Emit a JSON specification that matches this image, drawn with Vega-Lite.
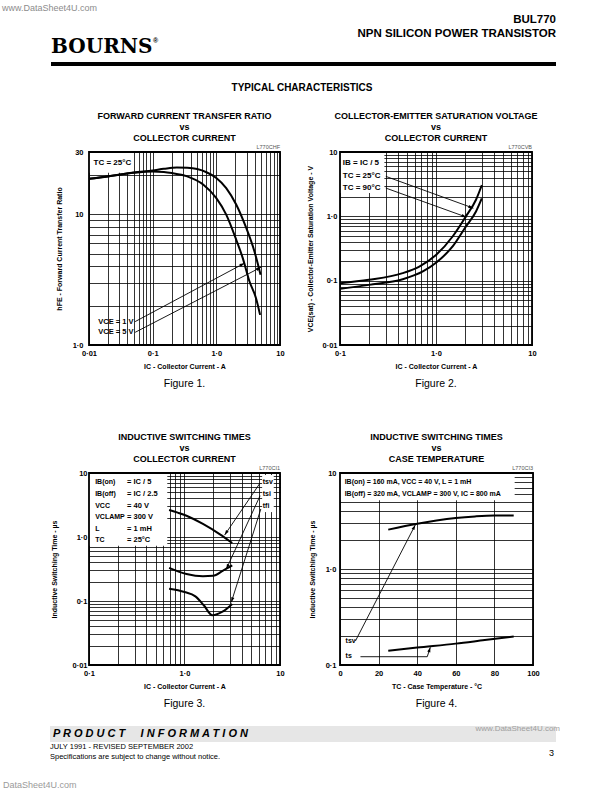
{
 "$schema": "https://vega.github.io/schema/vega-lite/v6.json",
 "background": "white",
 "padding": 0,
 "columns": 3,
 "align": "each",
 "bounds": "flush",
 "spacing": {"row": 0, "column": 60},
 "config": {
  "font": "Liberation Sans",
  "view": {"stroke": null},
  "title": {"fontSize": 9, "fontWeight": "bold", "color": "black", "lineHeight": 11, "offset": 2, "anchor": "middle"},
  "axis": {"grid": true, "gridColor": "black", "gridWidth": 0.8, "gridOpacity": 1, "domain": false, "ticks": false, "labelFontSize": 7.5, "labelFontWeight": "bold", "labelColor": "black", "labelOverlap": false, "labelBound": false, "labelFlush": false, "titleFontSize": 7, "titleFontWeight": "bold", "titleColor": "black"},
  "axisX": {"labelPadding": 4, "titlePadding": 6},
  "text": {"fontWeight": "bold", "fontSize": 7.5, "color": "black", "baseline": "middle"},
  "line": {"color": "black"},
  "point": {"color": "black", "filled": true, "opacity": 1}
 },
 "datasets": {
  "c1": [
   {"s": "5V", "x": 0.01, "y": 18.7}, {"s": "5V", "x": 0.02, "y": 19.6}, {"s": "5V", "x": 0.031, "y": 20.2}, {"s": "5V", "x": 0.05, "y": 20.9}, {"s": "5V", "x": 0.1, "y": 21.7}, {"s": "5V", "x": 0.15, "y": 22.3}, {"s": "5V", "x": 0.24, "y": 22.8}, {"s": "5V", "x": 0.35, "y": 22.7}, {"s": "5V", "x": 0.5, "y": 22.2}, {"s": "5V", "x": 0.7, "y": 21.0}, {"s": "5V", "x": 1.0, "y": 19.0}, {"s": "5V", "x": 1.43, "y": 15.9}, {"s": "5V", "x": 2.05, "y": 11.9}, {"s": "5V", "x": 2.94, "y": 7.9}, {"s": "5V", "x": 3.97, "y": 5.2}, {"s": "5V", "x": 4.95, "y": 3.45},
   {"s": "1V", "x": 0.01, "y": 18.7}, {"s": "1V", "x": 0.02, "y": 19.5}, {"s": "1V", "x": 0.031, "y": 20.2}, {"s": "1V", "x": 0.05, "y": 20.8}, {"s": "1V", "x": 0.1, "y": 21.3}, {"s": "1V", "x": 0.15, "y": 21.1}, {"s": "1V", "x": 0.2, "y": 20.7}, {"s": "1V", "x": 0.34, "y": 19.6}, {"s": "1V", "x": 0.62, "y": 16.9}, {"s": "1V", "x": 1.0, "y": 13.3}, {"s": "1V", "x": 1.43, "y": 9.95}, {"s": "1V", "x": 2.05, "y": 6.4}, {"s": "1V", "x": 2.61, "y": 4.6}, {"s": "1V", "x": 3.32, "y": 3.06}, {"s": "1V", "x": 4.2, "y": 2.28}, {"s": "1V", "x": 4.87, "y": 1.7}
  ],
  "a1": [
   {"id": "a", "x": 0.053, "y": 1.51, "tip": false}, {"id": "a", "x": 2.77, "y": 4.23, "tip": true},
   {"id": "b", "x": 0.053, "y": 1.25, "tip": false}, {"id": "b", "x": 5.05, "y": 3.94, "tip": true}
  ],
  "l1r": [{"t": "VCE = 1 V", "x": 0.05, "y": 1.51}, {"t": "VCE = 5 V", "x": 0.05, "y": 1.25}],
  "l1l": [{"t": "TC = 25°C", "x": 0.0118, "y": 24.8}],
  "c2": [
   {"s": "A", "x": 0.1, "y": 0.0912}, {"s": "A", "x": 0.2, "y": 0.103}, {"s": "A", "x": 0.45, "y": 0.131}, {"s": "A", "x": 0.67, "y": 0.166}, {"s": "A", "x": 1.0, "y": 0.25}, {"s": "A", "x": 1.49, "y": 0.486}, {"s": "A", "x": 2.05, "y": 1.0}, {"s": "A", "x": 2.61, "y": 1.81}, {"s": "A", "x": 3.0, "y": 3.05},
   {"s": "B", "x": 0.1, "y": 0.0745}, {"s": "B", "x": 0.2, "y": 0.086}, {"s": "B", "x": 0.45, "y": 0.105}, {"s": "B", "x": 0.73, "y": 0.139}, {"s": "B", "x": 1.0, "y": 0.19}, {"s": "B", "x": 1.49, "y": 0.34}, {"s": "B", "x": 2.05, "y": 0.695}, {"s": "B", "x": 2.61, "y": 1.19}, {"s": "B", "x": 3.0, "y": 1.9}
  ],
  "a2": [
   {"id": "a", "x": 0.3, "y": 4.18, "tip": false}, {"id": "a", "x": 2.45, "y": 1.34, "tip": true},
   {"id": "b", "x": 0.3, "y": 2.75, "tip": false}, {"id": "b", "x": 2.08, "y": 0.97, "tip": true}
  ],
  "l2l": [{"t": "IB = IC / 5", "x": 0.107, "y": 6.7}, {"t": "TC = 25°C", "x": 0.107, "y": 4.18}, {"t": "TC = 90°C", "x": 0.107, "y": 2.75}],
  "c3": [
   {"s": "tsv", "x": 0.69, "y": 2.64}, {"s": "tsv", "x": 0.85, "y": 2.4}, {"s": "tsv", "x": 1.05, "y": 2.15}, {"s": "tsv", "x": 1.56, "y": 1.6}, {"s": "tsv", "x": 2.33, "y": 1.11}, {"s": "tsv", "x": 3.16, "y": 0.805},
   {"s": "tsi", "x": 0.69, "y": 0.33}, {"s": "tsi", "x": 1.05, "y": 0.264}, {"s": "tsi", "x": 1.56, "y": 0.243}, {"s": "tsi", "x": 1.99, "y": 0.247}, {"s": "tsi", "x": 2.53, "y": 0.298}, {"s": "tsi", "x": 3.16, "y": 0.36},
   {"s": "tfi", "x": 0.69, "y": 0.155}, {"s": "tfi", "x": 1.0, "y": 0.138}, {"s": "tfi", "x": 1.3, "y": 0.118}, {"s": "tfi", "x": 1.6, "y": 0.085}, {"s": "tfi", "x": 1.95, "y": 0.06}, {"s": "tfi", "x": 2.5, "y": 0.068}, {"s": "tfi", "x": 3.16, "y": 0.09}
  ],
  "a3": [
   {"id": "sv", "x": 6.19, "y": 6.98, "tip": false}, {"id": "sv", "x": 2.63, "y": 1.07, "tip": true},
   {"id": "si", "x": 6.19, "y": 4.42, "tip": false}, {"id": "si", "x": 2.74, "y": 0.316, "tip": true},
   {"id": "fi", "x": 6.3, "y": 2.74, "tip": false}, {"id": "fi", "x": 3.09, "y": 0.0955, "tip": true}
  ],
  "l3a": [{"t": "IB(on)", "x": 0.116, "y": 7.14}, {"t": "IB(off)", "x": 0.116, "y": 4.7}, {"t": "VCC", "x": 0.116, "y": 3.09}, {"t": "VCLAMP", "x": 0.116, "y": 2.03}, {"t": "L", "x": 0.116, "y": 1.33}, {"t": "TC", "x": 0.116, "y": 0.908}],
  "l3b": [{"t": "= IC / 5", "x": 0.25, "y": 7.14}, {"t": "= IC / 2.5", "x": 0.25, "y": 4.7}, {"t": "= 40 V", "x": 0.25, "y": 3.09}, {"t": "= 300 V", "x": 0.25, "y": 2.03}, {"t": "= 1 mH", "x": 0.25, "y": 1.33}, {"t": "= 25°C", "x": 0.25, "y": 0.908}],
  "l3c": [{"t": "tsv", "x": 6.6, "y": 7.14}, {"t": "tsi", "x": 6.6, "y": 4.7}, {"t": "tfi", "x": 6.6, "y": 3.01}],
  "c4": [
   {"s": "tsv", "x": 25, "y": 2.57}, {"s": "tsv", "x": 40, "y": 2.96}, {"s": "tsv", "x": 50, "y": 3.2}, {"s": "tsv", "x": 60, "y": 3.4}, {"s": "tsv", "x": 70, "y": 3.53}, {"s": "tsv", "x": 80, "y": 3.6}, {"s": "tsv", "x": 90, "y": 3.6},
   {"s": "ts", "x": 25, "y": 0.141}, {"s": "ts", "x": 40, "y": 0.152}, {"s": "ts", "x": 60, "y": 0.167}, {"s": "ts", "x": 75, "y": 0.182}, {"s": "ts", "x": 90, "y": 0.198}
  ],
  "a4": [
   {"id": "sv", "x": 8, "y": 0.178, "tip": false}, {"id": "sv", "x": 39, "y": 2.88, "tip": true},
   {"id": "s", "x": 10.6, "y": 0.122, "tip": false}, {"id": "s", "x": 45.2, "y": 0.122, "tip": false}, {"id": "s", "x": 46.8, "y": 0.153, "tip": true}
  ],
  "l4a": [{"t": "IB(on) = 160 mA,  VCC = 40 V,    L = 1 mH", "x": 2.4, "y": 8.13}, {"t": "IB(off) = 320 mA,  VCLAMP = 300 V,  IC = 800 mA", "x": 2.4, "y": 6.05}],
  "l4b": [{"t": "tsv", "x": 2.9, "y": 0.177}, {"t": "ts", "x": 2.9, "y": 0.125}]
 },
 "concat": [
  {
   "width": 29, "height": 152,
   "data": {"values": [{}]},
   "layer": [
    {"mark": {"type": "text", "text": "www.DataSheet4U.com", "align": "left", "fontSize": 9, "fontWeight": "normal", "color": "#8c8c8c"},
     "encoding": {"x": {"datum": 2, "type": "quantitative", "scale": {"domain": [0, 29], "nice": false, "zero": false}, "axis": null}, "y": {"datum": 8, "type": "quantitative", "scale": {"domain": [0, 152], "nice": false, "zero": false, "reverse": true}, "axis": null}}},
    {"mark": {"type": "text", "text": "BUL770", "align": "right", "fontSize": 11.5},
     "encoding": {"x": {"datum": 556, "type": "quantitative", "scale": {"domain": [0, 29], "nice": false, "zero": false}, "axis": null}, "y": {"datum": 20, "type": "quantitative", "scale": {"domain": [0, 152], "nice": false, "zero": false, "reverse": true}, "axis": null}}},
    {"mark": {"type": "text", "text": "NPN SILICON POWER TRANSISTOR", "align": "right", "fontSize": 11.5},
     "encoding": {"x": {"datum": 556, "type": "quantitative", "scale": {"domain": [0, 29], "nice": false, "zero": false}, "axis": null}, "y": {"datum": 34, "type": "quantitative", "scale": {"domain": [0, 152], "nice": false, "zero": false, "reverse": true}, "axis": null}}},
    {"mark": {"type": "text", "text": "BOURNS", "align": "left", "font": "DejaVu Serif", "fontSize": 20, "fontWeight": "bold"},
     "encoding": {"x": {"datum": 51, "type": "quantitative", "scale": {"domain": [0, 29], "nice": false, "zero": false}, "axis": null}, "y": {"datum": 47, "type": "quantitative", "scale": {"domain": [0, 152], "nice": false, "zero": false, "reverse": true}, "axis": null}}},
    {"mark": {"type": "text", "text": "®", "align": "left", "fontSize": 7},
     "encoding": {"x": {"datum": 153, "type": "quantitative", "scale": {"domain": [0, 29], "nice": false, "zero": false}, "axis": null}, "y": {"datum": 41, "type": "quantitative", "scale": {"domain": [0, 152], "nice": false, "zero": false, "reverse": true}, "axis": null}}},
    {"mark": {"type": "rect", "color": "black"},
     "encoding": {"x": {"datum": 51, "type": "quantitative", "scale": {"domain": [0, 29], "nice": false, "zero": false}, "axis": null}, "x2": {"datum": 556}, "y": {"datum": 62, "type": "quantitative", "scale": {"domain": [0, 152], "nice": false, "zero": false, "reverse": true}, "axis": null}, "y2": {"datum": 66}}},
    {"mark": {"type": "text", "text": "TYPICAL CHARACTERISTICS", "align": "center", "fontSize": 10},
     "encoding": {"x": {"datum": 302, "type": "quantitative", "scale": {"domain": [0, 29], "nice": false, "zero": false}, "axis": null}, "y": {"datum": 88, "type": "quantitative", "scale": {"domain": [0, 152], "nice": false, "zero": false, "reverse": true}, "axis": null}}}
   ]
  },
  {"width": 10, "height": 10, "data": {"values": [{}]}, "mark": {"type": "point", "opacity": 0}},
  {"width": 10, "height": 10, "data": {"values": [{}]}, "mark": {"type": "point", "opacity": 0}},
  {"width": 10, "height": 10, "data": {"values": [{}]}, "mark": {"type": "point", "opacity": 0}},
  {
   "width": 191, "height": 193,
   "title": {"text": ["FORWARD CURRENT TRANSFER RATIO", "vs", "COLLECTOR CURRENT"]},
   "layer": [
    {"data": {"values": [{}]}, "mark": {"type": "rect", "color": "white"},
     "encoding": {"x": {"datum": 0.01, "type": "quantitative"}, "x2": {"datum": 0.048}, "y": {"datum": 30, "type": "quantitative"}, "y2": {"datum": 20.8}}},
    {"data": {"name": "c1"}, "mark": {"type": "line", "interpolate": "monotone", "strokeWidth": 2},
     "encoding": {
      "x": {"field": "x", "type": "quantitative", "scale": {"type": "log", "domain": [0.01, 10], "nice": false},
            "axis": {"values": [0.01, 0.02, 0.03, 0.04, 0.05, 0.06, 0.07, 0.08, 0.09, 0.1, 0.2, 0.3, 0.4, 0.5, 0.6, 0.7, 0.8, 0.9, 1, 2, 3, 4, 5, 6, 7, 8, 9, 10],
                     "labelExpr": "datum.value==0.01?'0·01':datum.value==0.1?'0·1':datum.value==1?'1·0':datum.value==10?'10':''",
                     "title": "IC - Collector Current - A"}},
      "y": {"field": "y", "type": "quantitative", "scale": {"type": "log", "domain": [1, 30], "nice": false},
            "axis": {"values": [1, 2, 3, 4, 5, 6, 7, 8, 9, 10, 20, 30],
                     "labelExpr": "datum.value==1?'1·0':datum.value==10?'10':datum.value==30?'30':''",
                     "title": "hFE - Forward Current Transfer Ratio", "labelPadding": 6, "titlePadding": 10}},
      "detail": {"field": "s"}}},
    {"data": {"name": "a1"}, "mark": {"type": "line", "strokeWidth": 0.9},
     "encoding": {"x": {"field": "x", "type": "quantitative"}, "y": {"field": "y", "type": "quantitative"}, "detail": {"field": "id"}}},
    {"data": {"name": "a1"}, "transform": [{"filter": "datum.tip"}],
     "mark": {"type": "point", "shape": "M0,0L0.32,1L-0.32,1Z", "size": 100},
     "encoding": {"x": {"field": "x", "type": "quantitative"}, "y": {"field": "y", "type": "quantitative"}, "angle": {"condition": [{"test": "datum.id=='a'", "value": 62}], "value": 63}}},
    {"data": {"name": "l1r"}, "mark": {"type": "text", "align": "right"},
     "encoding": {"x": {"field": "x", "type": "quantitative"}, "y": {"field": "y", "type": "quantitative"}, "text": {"field": "t"}}},
    {"data": {"name": "l1l"}, "mark": {"type": "text", "align": "left", "fontSize": 8},
     "encoding": {"x": {"field": "x", "type": "quantitative"}, "y": {"field": "y", "type": "quantitative"}, "text": {"field": "t"}}},
    {"data": {"values": [{}]}, "mark": {"type": "rect", "filled": false, "stroke": "black", "strokeWidth": 1.8},
     "encoding": {"x": {"datum": 0.01, "type": "quantitative"}, "x2": {"datum": 10}, "y": {"datum": 1, "type": "quantitative"}, "y2": {"datum": 30}}},
    {"data": {"values": [{}]}, "mark": {"type": "text", "text": "L770CHF", "align": "right", "baseline": "bottom", "dy": -2, "fontSize": 5.5, "fontWeight": "normal", "color": "#555555"},
     "encoding": {"x": {"datum": 10, "type": "quantitative"}, "y": {"datum": 30, "type": "quantitative"}}},
    {"data": {"values": [{}]}, "mark": {"type": "text", "text": "Figure 1.", "align": "center", "dy": 39, "fontSize": 10.5, "fontWeight": "normal"},
     "encoding": {"x": {"datum": 0.3162, "type": "quantitative"}, "y": {"datum": 1, "type": "quantitative"}}}
   ]
  },
  {
   "width": 192, "height": 193,
   "title": {"text": ["COLLECTOR-EMITTER SATURATION VOLTAGE", "vs", "COLLECTOR CURRENT"]},
   "layer": [
    {"data": {"values": [{}]}, "mark": {"type": "rect", "color": "white"},
     "encoding": {"x": {"datum": 0.1, "type": "quantitative"}, "x2": {"datum": 0.29}, "y": {"datum": 10, "type": "quantitative"}, "y2": {"datum": 2.3}}},
    {"data": {"name": "c2"}, "mark": {"type": "line", "interpolate": "monotone", "strokeWidth": 2},
     "encoding": {
      "x": {"field": "x", "type": "quantitative", "scale": {"type": "log", "domain": [0.1, 10], "nice": false},
            "axis": {"values": [0.1, 0.2, 0.3, 0.4, 0.5, 0.6, 0.7, 0.8, 0.9, 1, 2, 3, 4, 5, 6, 7, 8, 9, 10],
                     "labelExpr": "datum.value==0.1?'0·1':datum.value==1?'1·0':datum.value==10?'10':''",
                     "title": "IC - Collector Current - A"}},
      "y": {"field": "y", "type": "quantitative", "scale": {"type": "log", "domain": [0.01, 10], "nice": false},
            "axis": {"values": [0.01, 0.02, 0.03, 0.04, 0.05, 0.06, 0.07, 0.08, 0.09, 0.1, 0.2, 0.3, 0.4, 0.5, 0.6, 0.7, 0.8, 0.9, 1, 2, 3, 4, 5, 6, 7, 8, 9, 10],
                     "labelExpr": "datum.value==0.01?'0·01':datum.value==0.1?'0·1':datum.value==1?'1·0':datum.value==10?'10':''",
                     "title": "VCE(sat) - Collector-Emitter Saturation Voltage - V", "labelPadding": 3, "titlePadding": 8}},
      "detail": {"field": "s"}}},
    {"data": {"name": "a2"}, "mark": {"type": "line", "strokeWidth": 0.9},
     "encoding": {"x": {"field": "x", "type": "quantitative"}, "y": {"field": "y", "type": "quantitative"}, "detail": {"field": "id"}}},
    {"data": {"name": "a2"}, "transform": [{"filter": "datum.tip"}],
     "mark": {"type": "point", "shape": "M0,0L0.32,1L-0.32,1Z", "size": 100},
     "encoding": {"x": {"field": "x", "type": "quantitative"}, "y": {"field": "y", "type": "quantitative"}, "angle": {"value": 110}}},
    {"data": {"name": "l2l"}, "mark": {"type": "text", "align": "left", "fontSize": 8},
     "encoding": {"x": {"field": "x", "type": "quantitative"}, "y": {"field": "y", "type": "quantitative"}, "text": {"field": "t"}}},
    {"data": {"values": [{}]}, "mark": {"type": "rect", "filled": false, "stroke": "black", "strokeWidth": 1.8},
     "encoding": {"x": {"datum": 0.1, "type": "quantitative"}, "x2": {"datum": 10}, "y": {"datum": 0.01, "type": "quantitative"}, "y2": {"datum": 10}}},
    {"data": {"values": [{}]}, "mark": {"type": "text", "text": "L770CVB", "align": "right", "baseline": "bottom", "dy": -2, "fontSize": 5.5, "fontWeight": "normal", "color": "#555555"},
     "encoding": {"x": {"datum": 10, "type": "quantitative"}, "y": {"datum": 10, "type": "quantitative"}}},
    {"data": {"values": [{}]}, "mark": {"type": "text", "text": "Figure 2.", "align": "center", "dy": 39, "fontSize": 10.5, "fontWeight": "normal"},
     "encoding": {"x": {"datum": 1, "type": "quantitative"}, "y": {"datum": 0.01, "type": "quantitative"}}}
   ]
  },
  {"width": 10, "height": 128, "data": {"values": [{}]}, "mark": {"type": "point", "opacity": 0}},
  {"width": 10, "height": 10, "data": {"values": [{}]}, "mark": {"type": "point", "opacity": 0}},
  {"width": 10, "height": 10, "data": {"values": [{}]}, "mark": {"type": "point", "opacity": 0}},
  {"width": 10, "height": 10, "data": {"values": [{}]}, "mark": {"type": "point", "opacity": 0}},
  {
   "width": 191, "height": 192,
   "title": {"text": ["INDUCTIVE SWITCHING TIMES", "vs", "COLLECTOR CURRENT"]},
   "layer": [
    {"data": {"values": [{}]}, "mark": {"type": "rect", "color": "white"},
     "encoding": {"x": {"datum": 0.1, "type": "quantitative"}, "x2": {"datum": 0.66}, "y": {"datum": 10, "type": "quantitative"}, "y2": {"datum": 0.73}}},
    {"data": {"values": [{}]}, "mark": {"type": "rect", "color": "white"},
     "encoding": {"x": {"datum": 6.5, "type": "quantitative"}, "x2": {"datum": 8.6}, "y": {"datum": 9.3, "type": "quantitative"}, "y2": {"datum": 2.45}}},
    {"data": {"name": "c3"}, "mark": {"type": "line", "interpolate": "monotone", "strokeWidth": 2},
     "encoding": {
      "x": {"field": "x", "type": "quantitative", "scale": {"type": "log", "domain": [0.1, 10], "nice": false},
            "axis": {"values": [0.1, 0.2, 0.3, 0.4, 0.5, 0.6, 0.7, 0.8, 0.9, 1, 2, 3, 4, 5, 6, 7, 8, 9, 10],
                     "labelExpr": "datum.value==0.1?'0·1':datum.value==1?'1·0':datum.value==10?'10':''",
                     "title": "IC - Collector Current - A"}},
      "y": {"field": "y", "type": "quantitative", "scale": {"type": "log", "domain": [0.01, 10], "nice": false},
            "axis": {"values": [0.01, 0.02, 0.03, 0.04, 0.05, 0.06, 0.07, 0.08, 0.09, 0.1, 0.2, 0.3, 0.4, 0.5, 0.6, 0.7, 0.8, 0.9, 1, 2, 3, 4, 5, 6, 7, 8, 9, 10],
                     "labelExpr": "datum.value==0.01?'0·01':datum.value==0.1?'0·1':datum.value==1?'1·0':datum.value==10?'10':''",
                     "title": "Inductive Switching Time - µs", "labelPadding": 2, "titlePadding": 14}},
      "detail": {"field": "s"}}},
    {"data": {"name": "a3"}, "mark": {"type": "line", "strokeWidth": 0.9},
     "encoding": {"x": {"field": "x", "type": "quantitative"}, "y": {"field": "y", "type": "quantitative"}, "detail": {"field": "id"}}},
    {"data": {"name": "a3"}, "transform": [{"filter": "datum.tip"}],
     "mark": {"type": "point", "shape": "M0,0L0.32,1L-0.32,1Z", "size": 100},
     "encoding": {"x": {"field": "x", "type": "quantitative"}, "y": {"field": "y", "type": "quantitative"}, "angle": {"condition": [{"test": "datum.id=='sv'", "value": -146}, {"test": "datum.id=='si'", "value": -155}], "value": -162}}},
    {"data": {"name": "l3a"}, "mark": {"type": "text", "align": "left", "fontSize": 7},
     "encoding": {"x": {"field": "x", "type": "quantitative"}, "y": {"field": "y", "type": "quantitative"}, "text": {"field": "t"}}},
    {"data": {"name": "l3b"}, "mark": {"type": "text", "align": "left", "fontSize": 7.5},
     "encoding": {"x": {"field": "x", "type": "quantitative"}, "y": {"field": "y", "type": "quantitative"}, "text": {"field": "t"}}},
    {"data": {"name": "l3c"}, "mark": {"type": "text", "align": "left", "fontSize": 7},
     "encoding": {"x": {"field": "x", "type": "quantitative"}, "y": {"field": "y", "type": "quantitative"}, "text": {"field": "t"}}},
    {"data": {"values": [{}]}, "mark": {"type": "rect", "filled": false, "stroke": "black", "strokeWidth": 1.8},
     "encoding": {"x": {"datum": 0.1, "type": "quantitative"}, "x2": {"datum": 10}, "y": {"datum": 0.01, "type": "quantitative"}, "y2": {"datum": 10}}},
    {"data": {"values": [{}]}, "mark": {"type": "text", "text": "L770CI1", "align": "right", "baseline": "bottom", "dy": -2, "fontSize": 5.5, "fontWeight": "normal", "color": "#555555"},
     "encoding": {"x": {"datum": 10, "type": "quantitative"}, "y": {"datum": 10, "type": "quantitative"}}},
    {"data": {"values": [{}]}, "mark": {"type": "text", "text": "Figure 3.", "align": "center", "dy": 39, "fontSize": 10.5, "fontWeight": "normal"},
     "encoding": {"x": {"datum": 1, "type": "quantitative"}, "y": {"datum": 0.01, "type": "quantitative"}}}
   ]
  },
  {
   "width": 193, "height": 192,
   "title": {"text": ["INDUCTIVE SWITCHING TIMES", "vs", "CASE TEMPERATURE"]},
   "layer": [
    {"data": {"name": "c4"}, "mark": {"type": "line", "interpolate": "monotone", "strokeWidth": 2},
     "encoding": {
      "x": {"field": "x", "type": "quantitative", "scale": {"domain": [0, 100], "nice": false},
            "axis": {"values": [0, 20, 40, 60, 80, 100], "tickCount": 20, "labelOverlap": false, "labelFlush": false, "title": "TC - Case Temperature - °C"}},
      "y": {"field": "y", "type": "quantitative", "scale": {"type": "log", "domain": [0.1, 10], "nice": false},
            "axis": {"values": [0.1, 0.2, 0.3, 0.4, 0.5, 0.6, 0.7, 0.8, 0.9, 1, 2, 3, 4, 5, 6, 7, 8, 9, 10],
                     "labelExpr": "datum.value==0.1?'0·1':datum.value==1?'1·0':datum.value==10?'10':''",
                     "title": "Inductive Switching Time - µs", "labelPadding": 4, "titlePadding": 10}},
      "detail": {"field": "s"}}},
    {"data": {"values": [{}]}, "mark": {"type": "rect", "color": "white"},
     "encoding": {"x": {"datum": 0, "type": "quantitative"}, "x2": {"datum": 90.5}, "y": {"datum": 10, "type": "quantitative"}, "y2": {"datum": 5.2}}},
    {"data": {"name": "a4"}, "mark": {"type": "line", "strokeWidth": 0.9},
     "encoding": {"x": {"field": "x", "type": "quantitative"}, "y": {"field": "y", "type": "quantitative"}, "detail": {"field": "id"}}},
    {"data": {"name": "a4"}, "transform": [{"filter": "datum.tip"}],
     "mark": {"type": "point", "shape": "M0,0L0.32,1L-0.32,1Z", "size": 100},
     "encoding": {"x": {"field": "x", "type": "quantitative"}, "y": {"field": "y", "type": "quantitative"}, "angle": {"condition": [{"test": "datum.id=='sv'", "value": 27}], "value": 18}}},
    {"data": {"name": "l4a"}, "mark": {"type": "text", "align": "left", "fontSize": 7},
     "encoding": {"x": {"field": "x", "type": "quantitative"}, "y": {"field": "y", "type": "quantitative"}, "text": {"field": "t"}}},
    {"data": {"name": "l4b"}, "mark": {"type": "text", "align": "left", "fontSize": 7},
     "encoding": {"x": {"field": "x", "type": "quantitative"}, "y": {"field": "y", "type": "quantitative"}, "text": {"field": "t"}}},
    {"data": {"values": [{}]}, "mark": {"type": "rect", "filled": false, "stroke": "black", "strokeWidth": 1.8},
     "encoding": {"x": {"datum": 0, "type": "quantitative"}, "x2": {"datum": 100}, "y": {"datum": 0.1, "type": "quantitative"}, "y2": {"datum": 10}}},
    {"data": {"values": [{}]}, "mark": {"type": "text", "text": "L770CI3", "align": "right", "baseline": "bottom", "dy": -2, "fontSize": 5.5, "fontWeight": "normal", "color": "#555555"},
     "encoding": {"x": {"datum": 100, "type": "quantitative"}, "y": {"datum": 10, "type": "quantitative"}}},
    {"data": {"values": [{}]}, "mark": {"type": "text", "text": "Figure 4.", "align": "center", "dy": 39, "fontSize": 10.5, "fontWeight": "normal"},
     "encoding": {"x": {"datum": 50, "type": "quantitative"}, "y": {"datum": 0.1, "type": "quantitative"}}}
   ]
  },
  {
   "width": 29, "height": 127,
   "data": {"values": [{}]},
   "layer": [
    {"mark": {"type": "rect", "color": "#e6e6e6"},
     "encoding": {"x": {"datum": 50, "type": "quantitative", "scale": {"domain": [0, 29], "nice": false, "zero": false}, "axis": null}, "x2": {"datum": 556}, "y": {"datum": 61, "type": "quantitative", "scale": {"domain": [0, 127], "nice": false, "zero": false, "reverse": true}, "axis": null}, "y2": {"datum": 77}}},
    {"mark": {"type": "text", "text": "P R O D U C T \u00a0\u00a0\u00a0 I N F O R M A T I O N", "align": "left", "fontSize": 11, "fontStyle": "italic"},
     "encoding": {"x": {"datum": 53, "type": "quantitative", "scale": {"domain": [0, 29], "nice": false, "zero": false}, "axis": null}, "y": {"datum": 69, "type": "quantitative", "scale": {"domain": [0, 127], "nice": false, "zero": false, "reverse": true}, "axis": null}}},
    {"mark": {"type": "text", "text": "www.DataSheet4U.com", "align": "right", "fontSize": 8, "fontWeight": "normal", "color": "#a0a0a0"},
     "encoding": {"x": {"datum": 560, "type": "quantitative", "scale": {"domain": [0, 29], "nice": false, "zero": false}, "axis": null}, "y": {"datum": 64, "type": "quantitative", "scale": {"domain": [0, 127], "nice": false, "zero": false, "reverse": true}, "axis": null}}},
    {"mark": {"type": "text", "text": "JULY 1991 - REVISED SEPTEMBER 2002", "align": "left", "fontSize": 7.5, "fontWeight": "normal"},
     "encoding": {"x": {"datum": 50, "type": "quantitative", "scale": {"domain": [0, 29], "nice": false, "zero": false}, "axis": null}, "y": {"datum": 82, "type": "quantitative", "scale": {"domain": [0, 127], "nice": false, "zero": false, "reverse": true}, "axis": null}}},
    {"mark": {"type": "text", "text": "Specifications are subject to change without notice.", "align": "left", "fontSize": 7.5, "fontWeight": "normal"},
     "encoding": {"x": {"datum": 50, "type": "quantitative", "scale": {"domain": [0, 29], "nice": false, "zero": false}, "axis": null}, "y": {"datum": 92, "type": "quantitative", "scale": {"domain": [0, 127], "nice": false, "zero": false, "reverse": true}, "axis": null}}},
    {"mark": {"type": "text", "text": "3", "align": "right", "fontSize": 9, "fontWeight": "normal"},
     "encoding": {"x": {"datum": 554, "type": "quantitative", "scale": {"domain": [0, 29], "nice": false, "zero": false}, "axis": null}, "y": {"datum": 88, "type": "quantitative", "scale": {"domain": [0, 127], "nice": false, "zero": false, "reverse": true}, "axis": null}}},
    {"mark": {"type": "text", "text": "DataSheet4U.com", "align": "left", "fontSize": 9, "fontWeight": "normal", "color": "#9a9a9a"},
     "encoding": {"x": {"datum": 3, "type": "quantitative", "scale": {"domain": [0, 29], "nice": false, "zero": false}, "axis": null}, "y": {"datum": 120, "type": "quantitative", "scale": {"domain": [0, 127], "nice": false, "zero": false, "reverse": true}, "axis": null}}}
   ]
  }
 ]
}
